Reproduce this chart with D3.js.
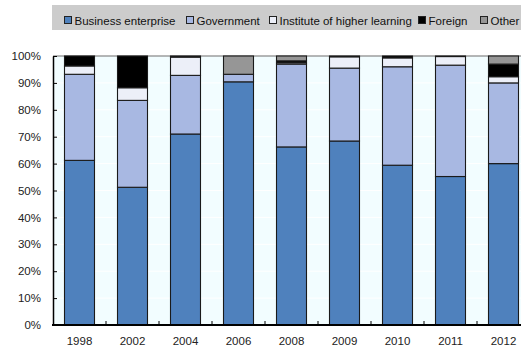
<!DOCTYPE html>
<html>
<head>
<meta charset="utf-8">
<script src="https://cdn.jsdelivr.net/npm/d3@7"></script>
<style>
  html, body { margin: 0; padding: 0; background: #ffffff; }
  svg { display: block; font-family: "Liberation Sans", Arial, sans-serif; }
</style>
</head>
<body>
<svg id="chart" width="521" height="349"></svg>
<script>
// Shares of R&D funding by source, per year (percent of total)
const years = ["1998", "2002", "2004", "2006", "2008", "2009", "2010", "2011", "2012"];
const business   = [61.2, 51.2, 71.0, 90.4, 66.2, 68.4, 59.4, 55.2, 60.0];
const government = [32.0, 32.3, 21.8,  2.8, 30.8, 27.1, 36.6, 41.4, 30.0];
const higher     = [ 3.1,  4.7,  6.8,  0.0,  0.5,  4.2,  3.3,  3.2,  2.3];
const foreign    = [ 3.7, 11.8,  0.4,  0.0,  0.7,  0.3,  0.7,  0.2,  4.7];
const other      = [ 0.0,  0.0,  0.0,  6.8,  1.8,  0.0,  0.0,  0.0,  3.0];

const seriesNames = ["Business enterprise", "Government", "Institute of higher learning", "Foreign", "Other"];
const seriesValues = [business, government, higher, foreign, other];
const seriesColors = ["#4f81bd", "#a8b8e2", "#eceff8", "#000000", "#969696"];
const yTicks = [0, 10, 20, 30, 40, 50, 60, 70, 80, 90, 100];

const svg = d3.select("#chart");

const plot = { left: 53, top: 56, right: 530, bottom: 325 };

const x = d3.scaleBand()
  .domain(years)
  .range([plot.left, plot.right])
  .paddingInner(23 / 53)
  .paddingOuter(11.5 / 53);

const y = d3.scaleLinear()
  .domain([0, 100])
  .range([plot.bottom, plot.top]);

// Plot background
svg.append("rect")
  .attr("x", plot.left).attr("y", plot.top)
  .attr("width", plot.right - plot.left).attr("height", plot.bottom - plot.top)
  .attr("fill", "#f2fdff");

// Faint horizontal gridlines
svg.append("g")
  .selectAll("line")
  .data(yTicks.filter(d => d > 0 && d < 100))
  .join("line")
  .attr("x1", plot.left).attr("x2", plot.right)
  .attr("y1", d => y(d)).attr("y2", d => y(d))
  .attr("stroke", "#ffffff").attr("stroke-width", 1);

// Top border
svg.append("line")
  .attr("x1", plot.left).attr("x2", plot.right)
  .attr("y1", y(100)).attr("y2", y(100))
  .attr("stroke", "#6e6e6e").attr("stroke-width", 1.2);

// Stacked data
const rows = years.map((yr, i) => {
  const o = { year: yr };
  seriesNames.forEach((n, k) => { o[n] = seriesValues[k][i]; });
  return o;
});
const stacked = d3.stack().keys(seriesNames)(rows);

svg.append("g")
  .selectAll("g")
  .data(stacked)
  .join("g")
  .attr("fill", (d, k) => seriesColors[k])
  .selectAll("rect")
  .data(d => d.filter(s => s[1] - s[0] > 0))
  .join("rect")
  .attr("x", d => x(d.data.year))
  .attr("width", x.bandwidth())
  .attr("y", d => y(d[1]))
  .attr("height", d => y(d[0]) - y(d[1]))
  .attr("stroke", "#1a1a1a")
  .attr("stroke-width", 1.1);

// Y axis (ticks point inward)
const yAxis = d3.axisLeft(y)
  .tickValues(yTicks)
  .tickFormat(d => d + "%")
  .tickSizeInner(-4)
  .tickSizeOuter(0)
  .tickPadding(12);
const gy = svg.append("g")
  .attr("transform", `translate(${plot.left},0)`)
  .call(yAxis);
gy.select(".domain").attr("stroke", "#000").attr("stroke-width", 1.5);
gy.selectAll(".tick line").attr("stroke", "#000");
gy.selectAll(".tick text")
  .attr("font-size", 11.5).attr("fill", "#222")
  .attr("font-family", "'Liberation Sans', Arial, sans-serif");

// X axis
const xAxis = d3.axisBottom(x).tickSize(0).tickPadding(12);
const gx = svg.append("g")
  .attr("transform", `translate(0,${plot.bottom})`)
  .call(xAxis);
gx.select(".domain").remove();
gx.selectAll(".tick text")
  .attr("font-size", 11.5).attr("fill", "#222")
  .attr("font-family", "'Liberation Sans', Arial, sans-serif");
svg.append("line")
  .attr("x1", plot.left - 1).attr("x2", plot.right)
  .attr("y1", plot.bottom).attr("y2", plot.bottom)
  .attr("stroke", "#000").attr("stroke-width", 2);

// Small separator ticks between categories on the baseline
svg.append("g")
  .selectAll("line")
  .data(years.slice(1))
  .join("line")
  .attr("x1", d => x(d) - x.step() * x.paddingInner() / 2)
  .attr("x2", d => x(d) - x.step() * x.paddingInner() / 2)
  .attr("y1", plot.bottom).attr("y2", plot.bottom - 4)
  .attr("stroke", "#000").attr("stroke-width", 1);

// Legend
const legend = svg.append("g");
legend.append("rect")
  .attr("x", 52).attr("y", 5).attr("width", 480).attr("height", 25)
  .attr("fill", "#cccccc");
const legendX = [64, 186, 269, 418, 480];
seriesNames.forEach((n, k) => {
  const g = legend.append("g").attr("transform", `translate(${legendX[k]},0)`);
  g.append("rect")
    .attr("x", 0.5).attr("y", 16.5).attr("width", 7).attr("height", 7)
    .attr("fill", seriesColors[k]).attr("stroke", "#222").attr("stroke-width", 1);
  g.append("text")
    .attr("x", 10.5).attr("y", 24.5)
    .attr("font-size", 11.5).attr("fill", "#111")
    .text(n);
});
</script>
</body>
</html>
